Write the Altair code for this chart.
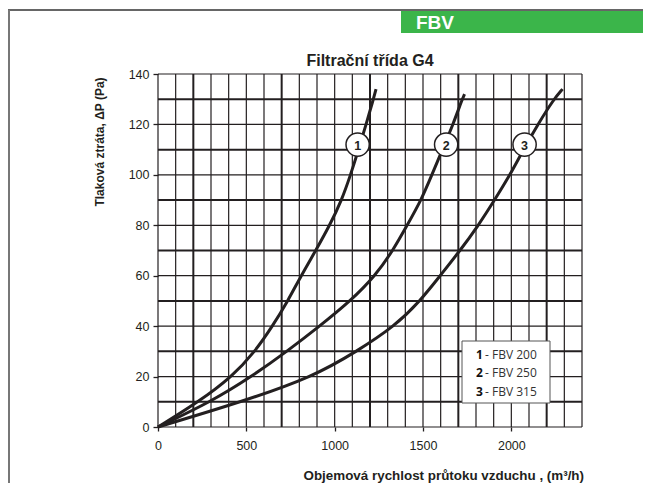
import altair as alt
import pandas as pd

# ---- data ----
x_ticks = [0, 500, 1000, 1500, 2000]
y_ticks = [0, 20, 40, 60, 80, 100, 120, 140]
grid_x = list(range(0, 2401, 100))
grid_y = list(range(0, 141, 10))

c1_x = [0, 230, 420, 550, 648, 735, 810, 893, 972, 1040, 1090, 1135, 1178, 1219, 1234]
c1_y = [0, 10, 20, 30, 40, 50, 60, 70, 80, 90, 100, 110, 120, 130, 134]
c2_x = [0, 300, 530, 730, 915, 1090, 1230, 1330, 1410, 1490, 1550, 1610, 1670, 1722, 1735]
c2_y = [0, 10, 20, 30, 40, 50, 60, 70, 80, 90, 100, 110, 120, 130, 132]
c3_x = [0, 475, 880, 1125, 1340, 1484, 1597, 1710, 1814, 1905, 1993, 2068, 2150, 2240, 2290]
c3_y = [0, 10, 20, 30, 40, 50, 60, 70, 80, 90, 100, 110, 120, 130, 134]

series_ids = ["1", "2", "3"]
legend_names = ["FBV 200", "FBV 250", "FBV 315"]
label_x = [1130, 1631, 2075]
label_y = [112, 112, 112]

title_text = "Filtrační třída G4"
x_title = "Objemová rychlost průtoku vzduchu , (m³/h)"
y_title = "Tlaková ztráta, ΔP (Pa)"
banner_text = "FBV"

# ---- tables ----
rows = []
for sid, xs_, ys_ in zip(series_ids, [c1_x, c2_x, c3_x], [c1_y, c2_y, c3_y]):
    for i, (a, b) in enumerate(zip(xs_, ys_)):
        rows.append({"s": sid, "x": a, "y": b, "i": i})
curves_df = pd.DataFrame(rows)
labels_df = pd.DataFrame({"s": series_ids, "x": label_x, "y": label_y})
legend_df = pd.DataFrame({"num": series_ids, "name": legend_names, "row": [0, 1, 2]})
one = pd.DataFrame({"a": [0]})

W, H = 424, 353
INK = "#231f20"
FONT = "Liberation Sans"

xs = alt.Scale(domain=[0, 2400], nice=False, zero=False)
ys = alt.Scale(domain=[0, 140], nice=False, zero=False)
x_axis = alt.Axis(values=x_ticks, format="d", title=None, grid=False, domain=False, ticks=True,
                  tickSize=4, tickColor=INK, tickWidth=1.3, labelFont=FONT,
                  labelFontSize=12.5, labelColor=INK, labelPadding=8, labelFlush=False)
y_axis = alt.Axis(values=y_ticks, format="d", title=None, grid=False, domain=False, ticks=True,
                  tickSize=5, tickColor=INK, tickWidth=1.3, labelFont=FONT,
                  labelFontSize=12.5, labelColor=INK, labelPadding=4)

grid_v = alt.Chart(pd.DataFrame({"v": grid_x})).transform_calculate(
    w="datum.v % 500 == 200 ? 2.0 : 1.2"
).mark_rule(color=INK).encode(
    x=alt.X("v:Q", scale=xs, axis=x_axis),
    strokeWidth=alt.StrokeWidth("w:Q", scale=None),
)
grid_h = alt.Chart(pd.DataFrame({"h": grid_y})).transform_calculate(
    w="datum.h % 20 == 10 ? 2.0 : 1.2"
).mark_rule(color=INK).encode(
    y=alt.Y("h:Q", scale=ys, axis=y_axis),
    strokeWidth=alt.StrokeWidth("w:Q", scale=None),
)

lines = alt.Chart(curves_df).mark_line(color=INK, strokeWidth=3, interpolate="basis").encode(
    x=alt.X("x:Q", scale=xs, axis=x_axis),
    y=alt.Y("y:Q", scale=ys, axis=y_axis),
    detail="s:N",
    order="i:Q",
)

circles = alt.Chart(labels_df).mark_circle(size=540, fill="white", stroke=INK,
                                           strokeWidth=1.5, opacity=1).encode(
    x=alt.X("x:Q", scale=xs, axis=x_axis),
    y=alt.Y("y:Q", scale=ys, axis=y_axis),
)
circle_text = alt.Chart(labels_df).mark_text(font=FONT, fontSize=12.5, fontWeight="bold",
                                             color=INK, baseline="middle", dy=1).encode(
    x=alt.X("x:Q", scale=xs, axis=x_axis),
    y=alt.Y("y:Q", scale=ys, axis=y_axis),
    text="s:N",
)

legend_box = alt.Chart(one).mark_rect(fill="white", stroke="#555", strokeWidth=1).encode(
    x=alt.value(304), x2=alt.value(392), y=alt.value(267), y2=alt.value(329)
)
legend_num = alt.Chart(legend_df).transform_calculate(
    py="280.5 + datum.row * 18.8"
).mark_text(font="Open Sans", fontSize=12, fontWeight="bold", color="#111",
            align="left", baseline="middle").encode(
    x=alt.value(318), y=alt.Y("py:Q", scale=None), text="num:N"
)
legend_name = alt.Chart(legend_df).transform_calculate(
    py="280.5 + datum.row * 18.8", t="'- ' + datum.name"
).mark_text(font="Open Sans", fontSize=12, color="#333",
            align="left", baseline="middle").encode(
    x=alt.value(327), y=alt.Y("py:Q", scale=None), text="t:N"
)

banner = alt.Chart(one).mark_rect(fill="#3bb54a").encode(
    x=alt.value(243), x2=alt.value(500), y=alt.value(-63), y2=alt.value(-41)
)
banner_label = alt.Chart(one).mark_text(text=banner_text, font=FONT, fontSize=19,
                                        fontWeight="bold", color="white", align="left",
                                        baseline="alphabetic").encode(
    x=alt.value(258), y=alt.value(-45)
)
top_line = alt.Chart(one).mark_rule(color="#333", strokeWidth=1.5).encode(
    x=alt.value(-150), x2=alt.value(500), y=alt.value(-64)
)
left_line = alt.Chart(one).mark_rule(color="#777", strokeWidth=2).encode(
    x=alt.value(-149), y=alt.value(-64), y2=alt.value(440)
)

title_mark = alt.Chart(one).mark_text(text=title_text, font=FONT, fontSize=16,
                                      fontWeight="bold", color=INK, align="center",
                                      baseline="alphabetic").encode(
    x=alt.value(212), y=alt.value(-8)
)
xtitle_mark = alt.Chart(one).mark_text(text=x_title, font=FONT, fontSize=13.4,
                                       fontWeight="bold", color=INK, align="right",
                                       baseline="middle").encode(
    x=alt.value(426), y=alt.value(402)
)
ytitle_mark = alt.Chart(one).mark_text(text=y_title, font=FONT, fontSize=12,
                                       fontWeight="bold", color=INK, align="center",
                                       baseline="middle", angle=270).encode(
    x=alt.value(-58), y=alt.value(68)
)

chart = alt.layer(
    grid_v, grid_h, lines, circles, circle_text, legend_box, legend_num, legend_name,
    banner, banner_label, top_line, left_line, title_mark, xtitle_mark, ytitle_mark,
).properties(
    width=W, height=H,
    padding={"left": 150, "top": 66, "right": 61, "bottom": 56},
    autosize=alt.AutoSizeParams(type="none"),
    background="white",
).configure_view(stroke=None)

chart.save("out.html", embed_options={"renderer": "svg", "actions": False})
